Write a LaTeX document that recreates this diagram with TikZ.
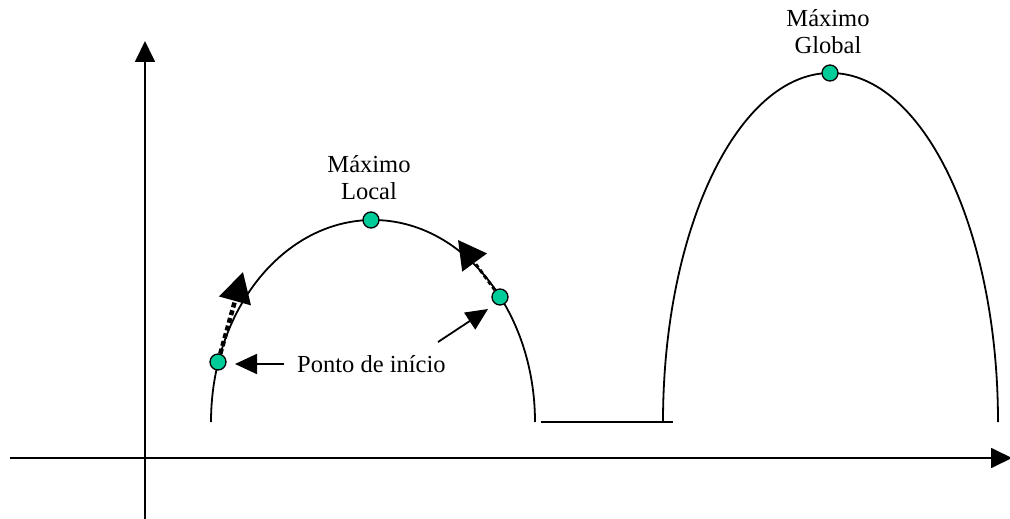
\documentclass[tikz,border=0pt]{standalone}
\usepackage{fontspec}
\setmainfont{Liberation Serif}
\usetikzlibrary{arrows.meta}
\definecolor{dotgreen}{RGB}{0,204,153}
\tikzset{
  curve/.style={line width=1.8pt, black},
  axis/.style={line width=1.8pt, -{Triangle[length=21pt,width=20pt]}},
  dot/.style={circle, draw=black, line width=1.3pt, fill=dotgreen, minimum size=16pt, inner sep=0pt},
  bigdotarrow/.style={line width=4.5pt, dash pattern=on 5pt off 3pt, -{Triangle[length=30pt,width=32pt]}},
  smalldotarrow/.style={line width=3pt, dash pattern=on 4pt off 3pt, -{Triangle[length=28pt,width=30pt]}},
  pointer/.style={line width=1.8pt, -{Triangle[length=22pt,width=20pt]}},
  lbl/.style={font=\fontsize{24.5}{27}\selectfont, align=center, inner sep=0pt},
}
\begin{document}
\begin{tikzpicture}[x=1pt,y=-1pt]
\useasboundingbox (0,0) rectangle (1010,519);
\clip (0,0) rectangle (1010,519);
% axes
\coordinate (ybot) at (145,519);
\coordinate (ytop) at (145,41);
\coordinate (xl) at (10,458);
\coordinate (xr) at (1012,458);
\draw[axis] (ybot) -- (ytop);
\draw[axis] (xl) -- (xr);
% curves
\draw[curve] (211,422) arc[start angle=180, end angle=0, x radius=162pt, y radius=202pt];
\draw[curve] (541,422) -- (673,422);
\draw[curve] (663,422) arc[start angle=180, end angle=0, x radius=167.5pt, y radius=349pt];
% dots
\node[dot] (start) at (218,362) {};
\node[dot] (lmax) at (371,220) {};
\node[dot] (p2) at (500,297) {};
\node[dot] (gmax) at (830,73) {};
% labels
\node[lbl, anchor=south] (llab) at (369,200) {Máximo\\Local};
\node[lbl, anchor=south] (glab) at (828,54) {Máximo\\Global};
\node[lbl, anchor=base west] (plab) at (297,372) {Ponto de início};
% arrows
\coordinate (t1) at (243,272);
\coordinate (t2) at (458,240);
\draw[bigdotarrow] (start) -- (t1);
\draw[smalldotarrow] (p2) -- (t2);
\coordinate (a1s) at (284,364);
\coordinate (a1t) at (235,364);
\coordinate (a2s) at (438,342);
\coordinate (a2t) at (488,309);
\draw[pointer] (a1s) -- (a1t);
\draw[pointer] (a2s) -- (a2t);
\end{tikzpicture}
\end{document}
